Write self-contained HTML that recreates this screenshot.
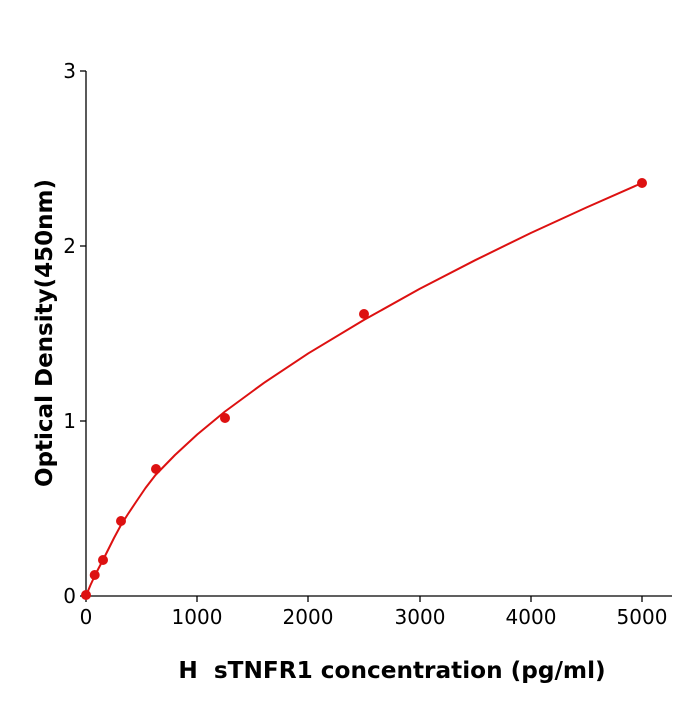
<!DOCTYPE html>
<html><head><style>
body{margin:0;background:#fff;}
svg text{font-family:"DejaVu Sans","Liberation Sans",sans-serif;}
</style></head><body>
<svg width="700" height="700" xmlns="http://www.w3.org/2000/svg">
<g stroke="#000" stroke-width="1.3" fill="none">
<line x1="86" y1="71" x2="86" y2="596"/>
<line x1="86" y1="596" x2="672" y2="596"/>
<line x1="80" y1="71" x2="86" y2="71"/>
<line x1="80" y1="246" x2="86" y2="246"/>
<line x1="80" y1="421" x2="86" y2="421"/>
<line x1="80" y1="596" x2="86" y2="596"/>
<line x1="86" y1="596" x2="86" y2="602"/>
<line x1="197" y1="596" x2="197" y2="602"/>
<line x1="308" y1="596" x2="308" y2="602"/>
<line x1="420" y1="596" x2="420" y2="602"/>
<line x1="531" y1="596" x2="531" y2="602"/>
<line x1="642" y1="596" x2="642" y2="602"/>
</g>
<g font-size="20" fill="#000" text-anchor="end">
<text x="76" y="78">3</text>
<text x="76" y="253">2</text>
<text x="76" y="428">1</text>
<text x="76" y="603">0</text>
</g>
<g font-size="20" fill="#000" text-anchor="middle">
<text x="86" y="624">0</text>
<text x="197" y="624">1000</text>
<text x="308" y="624">2000</text>
<text x="420" y="624">3000</text>
<text x="531" y="624">4000</text>
<text x="642" y="624">5000</text>
</g>
<text x="392" y="678" font-size="23.2" font-weight="bold" text-anchor="middle">H&#160; sTNFR1 concentration (pg/ml)</text>
<text transform="translate(52,333) rotate(-90)" font-size="23" font-weight="bold" text-anchor="middle">Optical Density(450nm)</text>
<polyline fill="none" stroke="#dd1111" stroke-width="2" stroke-linejoin="round" points="86,596 88,591 90.5,585 94.7,576 98.5,568.5 103,560 108,550 114,538 121,525 128,514 136,502 145.5,488 155.5,475 175.0,455 197.2,434.5 225.0,411.5 263.9,382.9 308.4,353.3 364.0,319.9 419.6,288.9 475.2,260.2 530.8,233.0 586.4,207.5 642,183"/>
<g fill="#dd1111">
<circle cx="86" cy="595" r="5"/>
<circle cx="94.7" cy="575" r="5"/>
<circle cx="103" cy="560" r="5"/>
<circle cx="121" cy="521" r="5"/>
<circle cx="156" cy="469" r="5"/>
<circle cx="225" cy="418" r="5"/>
<circle cx="364" cy="314" r="5"/>
<circle cx="642" cy="183" r="5"/>
</g>
</svg>
</body></html>
